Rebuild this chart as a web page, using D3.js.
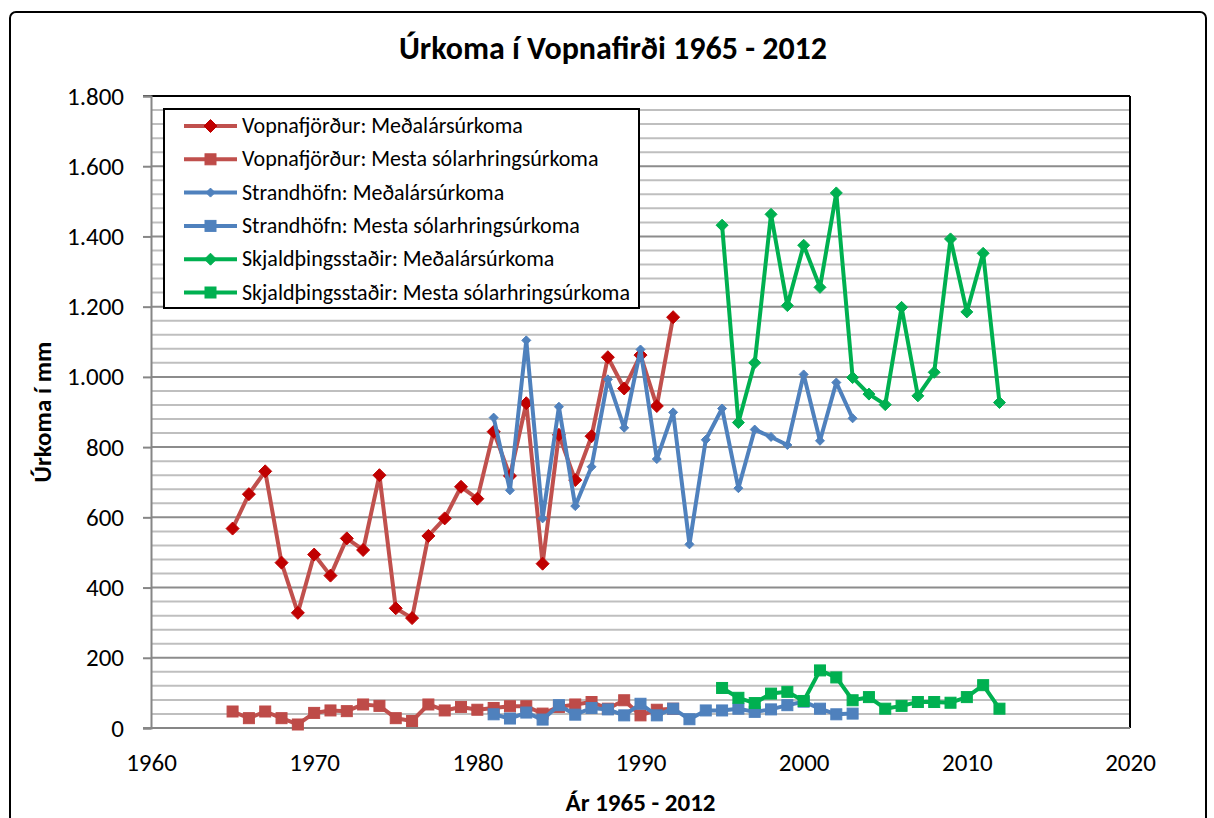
<!DOCTYPE html>
<html><head><meta charset="utf-8">
<script src="https://cdn.jsdelivr.net/npm/d3@7"></script>
<style>
html,body{margin:0;padding:0;background:#fff;}
svg{display:block;font-family:Carlito,Lato,"Open Sans",sans-serif;}
</style></head>
<body><svg id="chart" width="1214" height="818"></svg>
<script>
const title = "Úrkoma í Vopnafirði 1965 - 2012";
const xTitle = "Ár 1965 - 2012";
const yTitle = "Úrkoma í mm";
const xTicks = [1960,1970,1980,1990,2000,2010,2020];
const yTicks = [0,200,400,600,800,1000,1200,1400,1600,1800];

const yearsV = d3.range(1965,1993);
const vopnMean = [568,666,731,471,328,494,434,540,507,720,341,313,547,597,687,653,844,718,925,468,835,706,831,1056,967,1062,917,1170];
const vopnMax  = [47,28,47,28,10,43,50,48,67,63,28,20,67,50,60,52,57,62,62,41,60,67,74,55,79,36,52,55];

const yearsS = d3.range(1981,2004);
const strMean = [884,677,1104,597,915,632,744,993,855,1078,766,899,523,821,910,683,850,829,806,1007,818,984,882];
const strMax  = [39,27,44,24,65,38,57,53,36,69,36,55,25,50,50,55,46,53,65,75,55,39,41];

const yearsK = d3.range(1995,2013);
const skjMean = [1432,870,1040,1463,1203,1375,1255,1524,998,951,921,1198,946,1013,1393,1185,1352,927];
const skjMax  = [114,86,71,98,103,77,164,144,79,88,55,63,74,74,72,88,122,55];

const seriesNames = [
  "Vopnafjörður: Meðalársúrkoma",
  "Vopnafjörður: Mesta sólarhringsúrkoma",
  "Strandhöfn: Meðalársúrkoma",
  "Strandhöfn: Mesta sólarhringsúrkoma",
  "Skjaldþingsstaðir: Meðalársúrkoma",
  "Skjaldþingsstaðir: Mesta sólarhringsúrkoma"
];

const series = [
  {name:seriesNames[0], years:yearsV, vals:vopnMean, line:"#C0504D", fill:"#C00000", shape:"diamond", size:13},
  {name:seriesNames[1], years:yearsV, vals:vopnMax,  line:"#C0504D", fill:"#BE4B48", shape:"square", size:11},
  {name:seriesNames[2], years:yearsS, vals:strMean,  line:"#4F81BD", fill:"#4F81BD", shape:"diamond", size:9},
  {name:seriesNames[3], years:yearsS, vals:strMax,   line:"#4F81BD", fill:"#4F81BD", shape:"square", size:11},
  {name:seriesNames[4], years:yearsK, vals:skjMean,  line:"#00B050", fill:"#00B050", shape:"diamond", size:12},
  {name:seriesNames[5], years:yearsK, vals:skjMax,   line:"#00B050", fill:"#00B050", shape:"square", size:11}
];

const svg = d3.select("#chart");
const L=151, R=1130, T=96, B=728;
const x = d3.scaleLinear().domain([1960,2020]).range([L,R]);
const y = d3.scaleLinear().domain([0,1800]).range([B,T]);
const fmt = v => d3.format(",")(v).replace(/,/g,".");
const FONT = "Carlito,Lato,sans-serif";

// outer frame
svg.append("rect").attr("x",10).attr("y",12).attr("width",1196).attr("height",830)
  .attr("rx",6).attr("fill","#fff").attr("stroke","#000").attr("stroke-width",2);

// title
svg.append("text").attr("x",613).attr("y",59).attr("text-anchor","middle")
  .attr("font-weight","bold").attr("font-size",32).text(title);

// gridlines
const g = svg.append("g");
d3.range(40,1801,40).forEach(v=>{
  const major = v%200===0;
  g.append("line").attr("x1",L).attr("x2",R).attr("y1",y(v)).attr("y2",y(v))
   .attr("stroke", major?"#8C8C8C":"#BFBFBF").attr("stroke-width",2);
});
// plot border top/right
g.append("line").attr("x1",L-8).attr("x2",R).attr("y1",T).attr("y2",T).attr("stroke","#000").attr("stroke-width",2);
g.append("line").attr("x1",R).attr("x2",R).attr("y1",T).attr("y2",B).attr("stroke","#000").attr("stroke-width",2);

// y axis
const yAxis = d3.axisLeft(y).tickValues(yTicks).tickFormat(fmt).tickSize(8).tickPadding(19);
const ya = svg.append("g").attr("transform",`translate(${L},0)`).call(yAxis);
ya.select(".domain").attr("stroke","#868686").attr("stroke-width",2);
ya.selectAll(".tick line").attr("stroke","#868686").attr("stroke-width",2);
ya.selectAll(".tick text").attr("font-size",25).attr("fill","#000").attr("font-family",FONT);

// x axis
const xAxis = d3.axisBottom(x).tickValues(xTicks).tickFormat(d3.format("d")).tickSize(0).tickPadding(25);
const xa = svg.append("g").attr("transform",`translate(0,${B})`).call(xAxis);
xa.select(".domain").attr("stroke","#868686").attr("stroke-width",2).attr("d",`M${L-8},0H${R}`);
xa.selectAll(".tick text").attr("font-size",25).attr("fill","#000").attr("font-family",FONT);

// axis titles
svg.append("text").attr("x",(L+R)/2).attr("y",811).attr("text-anchor","middle")
  .attr("font-weight","bold").attr("font-size",25).text(xTitle);
svg.append("text").attr("transform",`translate(51,${(T+B)/2}) rotate(-90)`).attr("text-anchor","middle")
  .attr("font-weight","bold").attr("font-size",25).text(yTitle);

function marker(sel, shape, size){
  if(shape==="diamond"){
    const h=size/2;
    sel.append("path").attr("d",`M0,${-h}L${h},0L0,${h}L${-h},0Z`);
  } else {
    sel.append("rect").attr("x",-size/2).attr("y",-size/2).attr("width",size).attr("height",size);
  }
}

const line = d3.line().x(d=>x(d[0])).y(d=>y(d[1]));
series.forEach(s=>{
  const pts = s.years.map((yr,i)=>[yr,s.vals[i]]);
  const sg = svg.append("g");
  sg.append("path").datum(pts).attr("d",line).attr("fill","none")
    .attr("stroke",s.line).attr("stroke-width",4).attr("stroke-linejoin","round");
  pts.forEach(p=>{
    const m = sg.append("g").attr("transform",`translate(${x(p[0])},${y(p[1])})`)
      .attr("fill",s.fill).attr("stroke",s.fill).attr("stroke-width",1);
    marker(m,s.shape,s.size);
  });
});

// legend
const lg = svg.append("g");
lg.append("rect").attr("x",164).attr("y",109).attr("width",475).attr("height",199)
  .attr("fill","#fff").attr("stroke","#000").attr("stroke-width",2);
series.forEach((s,i)=>{
  const yy = 126 + i*33.3;
  lg.append("line").attr("x1",184).attr("x2",237).attr("y1",yy).attr("y2",yy)
    .attr("stroke",s.line).attr("stroke-width",4);
  const m = lg.append("g").attr("transform",`translate(210.5,${yy})`).attr("fill",s.fill).attr("stroke",s.fill);
  marker(m,s.shape,s.size);
  lg.append("text").attr("x",242).attr("y",yy+7).attr("font-size",22).text(s.name);
});
</script></body></html>
